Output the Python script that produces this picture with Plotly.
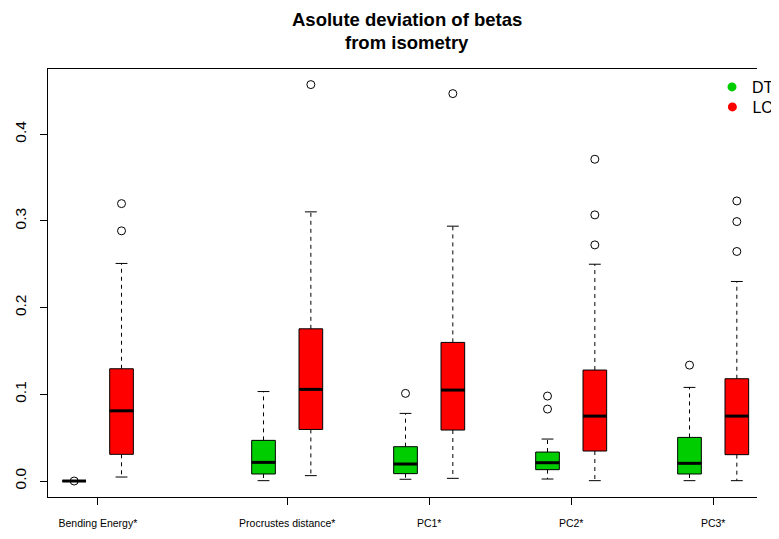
import plotly.graph_objects as go

categories = ["Bending Energy*", "Procrustes distance*", "PC1*", "PC2*", "PC3*"]
group_names = ["DT", "LC"]

# DT (green) box statistics
dt_lower = [0.0, 0.0004, 0.0020, 0.0023, 0.0004]
dt_q1 = [0.0, 0.0081, 0.0085, 0.0131, 0.0081]
dt_median = [0.0, 0.0215, 0.0196, 0.0211, 0.0204]
dt_q3 = [0.0, 0.0469, 0.0396, 0.0334, 0.0503]
dt_upper = [0.0, 0.1032, 0.0780, 0.0484, 0.1080]
dt_outliers = [[0.0], [], [0.1011], [0.0980, 0.0830], [0.1337]]

# LC (red) box statistics
lc_lower = [0.0046, 0.0062, 0.0031, 0.0004, 0.0004]
lc_q1 = [0.0308, 0.0595, 0.0588, 0.0346, 0.0304]
lc_median = [0.0810, 0.1057, 0.1049, 0.0749, 0.0749]
lc_q3 = [0.1295, 0.1756, 0.1599, 0.1280, 0.1180]
lc_upper = [0.2510, 0.3105, 0.2940, 0.2501, 0.2302]
lc_outliers = [[0.3200, 0.2886], [0.4573], [0.4469], [0.3712, 0.3070, 0.2724],
               [0.3231, 0.2993, 0.2648]]

y_ticks = [0.0, 0.1, 0.2, 0.3, 0.4]

# layout (positions on the category axis, R-style at=)
group_centers = [1.5, 5.5, 8.5, 11.5, 14.5]
offsets = [-0.5, 0.5]
box_w = 0.5
cap_w = 0.25
colors = ["#00CD00", "#FF0000"]

fig = go.Figure()

groups = [
    (dt_lower, dt_q1, dt_median, dt_q3, dt_upper, dt_outliers),
    (lc_lower, lc_q1, lc_median, lc_q3, lc_upper, lc_outliers),
]

for gi, (lo, q1, med, q3, up, outl) in enumerate(groups):
    pos = [c + offsets[gi] for c in group_centers]
    fig.add_trace(go.Box(
        x=pos, q1=q1, median=med, q3=q3, lowerfence=q1, upperfence=q3,
        width=box_w, fillcolor=colors[gi], line=dict(color="black", width=1),
        whiskerwidth=0, showlegend=False, hoverinfo="skip", boxpoints=False,
    ))
    wx, wy, cx, cy, mx, my, ox, oy = [], [], [], [], [], [], [], []
    for i, p in enumerate(pos):
        wx += [p, p, None, p, p, None]
        wy += [q3[i], up[i], None, q1[i], lo[i], None]
        cx += [p - cap_w / 2, p + cap_w / 2, None, p - cap_w / 2, p + cap_w / 2, None]
        cy += [up[i], up[i], None, lo[i], lo[i], None]
        mx += [p - box_w / 2, p + box_w / 2, None]
        my += [med[i], med[i], None]
        for v in outl[i]:
            ox.append(p)
            oy.append(v)
    fig.add_trace(go.Scatter(x=wx, y=wy, mode="lines",
                             line=dict(color="black", width=1, dash="4px,4px"),
                             showlegend=False, hoverinfo="skip"))
    fig.add_trace(go.Scatter(x=cx, y=cy, mode="lines",
                             line=dict(color="black", width=1),
                             showlegend=False, hoverinfo="skip"))
    fig.add_trace(go.Scatter(x=mx, y=my, mode="lines",
                             line=dict(color="black", width=3),
                             showlegend=False, hoverinfo="skip"))
    fig.add_trace(go.Scatter(x=ox, y=oy, mode="markers",
                             marker=dict(symbol="circle-open", size=8,
                                         color="black", line=dict(width=1)),
                             showlegend=False, hoverinfo="skip"))

# legend entries (one legend per group so each can be placed like R's legend)
legend_ids = ["legend", "legend2"]
for gi, name in enumerate(group_names):
    fig.add_trace(go.Scatter(x=[None], y=[None], mode="markers", name=name,
                             legend=legend_ids[gi],
                             marker=dict(symbol="circle", size=9, color=colors[gi])))

font_family = "Liberation Sans, Arial, sans-serif"

# page body has an 8px margin; figure is sized/margined to compensate
W, H = 771, 523
ML, MT, MB = 40, 61, 34
PW, PH = W - ML, H - MT - MB


def px_x(fx):
    return (fx - ML) / PW


def px_y(fy):
    return (H - MB - fy) / PH


legend_common = dict(xanchor="left", yanchor="middle", font=dict(size=16),
                     bgcolor="rgba(0,0,0,0)", itemwidth=30)

fig.update_layout(
    width=W, height=H,
    margin=dict(l=ML, r=0, t=MT, b=MB),
    paper_bgcolor="white", plot_bgcolor="white",
    boxmode="overlay",
    font=dict(family=font_family, color="black", size=15),
    showlegend=True,
    legend=dict(x=px_x(725), y=px_y(79), **legend_common),
    legend2=dict(x=px_x(725), y=px_y(99), **legend_common),
    xaxis=dict(
        range=[0.4467, 15.426], showgrid=False, zeroline=False,
        tickmode="array", tickvals=group_centers, ticktext=categories,
        ticks="outside", ticklen=7, tickcolor="black", tickwidth=1,
        tickfont=dict(size=10.5), ticklabelstandoff=9,
        showline=True, linecolor="black", linewidth=1, mirror=True,
    ),
    yaxis=dict(
        range=[-0.01844, 0.4753], showgrid=False, zeroline=False,
        tickmode="array", tickvals=y_ticks, tickformat=".1f",
        ticks="outside", ticklen=7, tickcolor="black", tickwidth=1,
        tickangle=-90, tickfont=dict(size=15.5), ticklabelstandoff=8,
        showline=True, linecolor="black", linewidth=1,
    ),
    annotations=[
        dict(text="<b>Asolute deviation of betas</b>", xref="paper", yref="paper",
             x=px_x(410), y=px_y(11.5), showarrow=False,
             xanchor="center", yanchor="middle", font=dict(size=18.5)),
        dict(text="<b>from isometry</b>", xref="paper", yref="paper",
             x=px_x(410), y=px_y(35), showarrow=False,
             xanchor="center", yanchor="middle", font=dict(size=18.5)),
    ],
)

fig.write_html("out.html")
